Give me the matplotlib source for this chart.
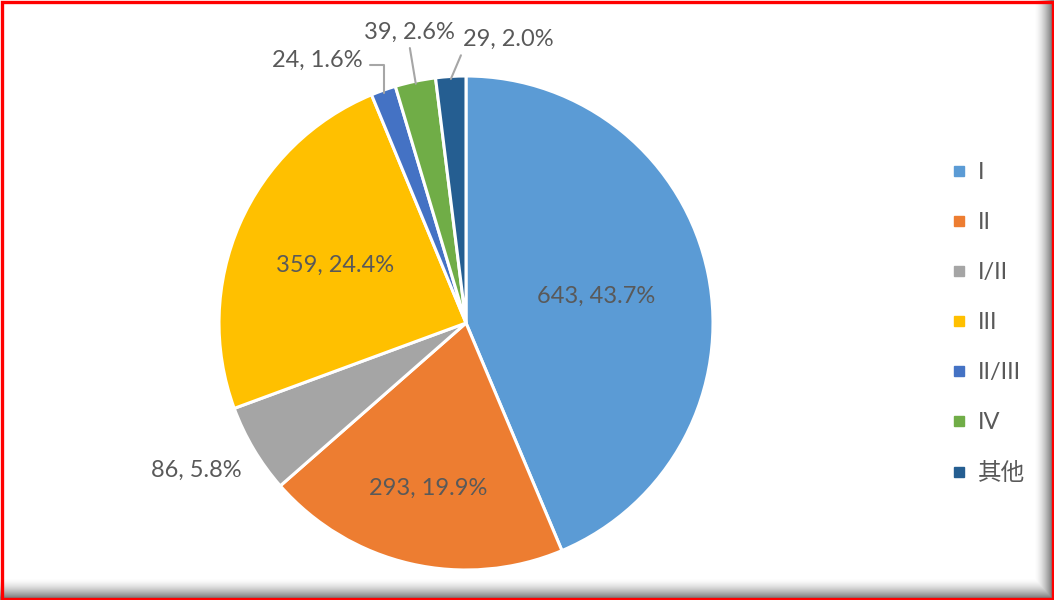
import numpy as np
import matplotlib
matplotlib.use("Agg")
import matplotlib.pyplot as plt
from matplotlib.patches import Rectangle
from matplotlib.lines import Line2D

# data
categories = ['I', 'II', 'I/II', 'III', 'II/III', 'IV', '其他']
counts = [643, 293, 86, 359, 24, 39, 29]
colors = ['#5B9BD5', '#ED7D31', '#A5A5A5', '#FFC000', '#4472C4', '#70AD47', '#255E91']

# label placement: radial distance for inside labels, (x, y) text spot for outside ones
inside_r = {0: 0.537, 1: 0.685, 3: 0.58}
outside_xy = {2: (-1.09, -0.595), 4: (-0.60, 1.065), 5: (-0.231, 1.178), 6: (0.172, 1.148)}

plt.rcParams['font.family'] = ['Lato', 'Noto Sans CJK SC', 'DejaVu Sans']
txt_color = '#595959'
fs = 17

W, H = 1054, 600
fig = plt.figure(figsize=(W / 100, H / 100), dpi=100)

# drop shadow along bottom and right edge
yy, xx = np.mgrid[0:H, 0:W]
a_bot = np.clip((yy - 578) / 19.0, 0, 1)
a_rgt = np.clip((xx - 1034) / 17.0, 0, 1)
a = np.maximum(a_bot, a_rgt) ** 1.6
shade = 1 - 0.5 * a
img = np.dstack([shade, shade, shade])
fig.figimage(img, 0, 0, origin='upper', zorder=-10)

cx, cy, r = 466, 323, 247
ax = fig.add_axes([(cx - r) / W, (H - cy - r) / H, 2 * r / W, 2 * r / H], zorder=5)
ax.patch.set_visible(False)
wedges, _ = ax.pie(counts, colors=colors, startangle=90, counterclock=False,
                   radius=1, wedgeprops=dict(edgecolor='white', linewidth=2.2))
ax.set_xlim(-1, 1)
ax.set_ylim(-1, 1)
ax.axis('off')

total = sum(counts)
for i, (w, n) in enumerate(zip(wedges, counts)):
    lab = f'{n}, {n / total * 100:.1f}%'
    ang = np.deg2rad((w.theta1 + w.theta2) / 2)
    if i in inside_r:
        d = inside_r[i]
        ax.text(d * np.cos(ang), d * np.sin(ang), lab, ha='center', va='center',
                fontsize=fs, color=txt_color, clip_on=False)
    else:
        tx, ty = outside_xy[i]
        tip = (0.99 * np.cos(ang), 0.99 * np.sin(ang))
        if i == 4:
            ap = dict(arrowstyle='-', color='#A6A6A6', lw=1.5, shrinkA=3, shrinkB=0,
                      relpos=(1, 0.25), connectionstyle='angle,angleA=0,angleB=90,rad=0')
        elif i == 5:
            ap = dict(arrowstyle='-', color='#A6A6A6', lw=1.5, shrinkA=2, shrinkB=0,
                      relpos=(0.5, 0))
        elif i == 6:
            ap = dict(arrowstyle='-', color='#A6A6A6', lw=1.5, shrinkA=2, shrinkB=0,
                      relpos=(0.02, 0.2))
        else:
            ap = None
        ax.annotate(lab, xy=tip, xytext=(tx, ty), ha='center', va='center',
                    fontsize=fs, color=txt_color, annotation_clip=False,
                    arrowprops=ap)

handles = [Line2D([], [], marker='s', linestyle='none', markersize=6.5,
                  markerfacecolor=c, markeredgecolor=c) for c in colors]
fig.legend(handles, categories, loc='center left', bbox_to_anchor=(951 / W, 1 - 323 / H),
           frameon=False, fontsize=fs, labelcolor=txt_color, handlelength=0.7,
           handletextpad=0.45, labelspacing=1.23, borderpad=0, borderaxespad=0)

# red frame
fig.add_artist(Rectangle((1.5 / W, 1.0 / H), (W - 2.5) / W, (H - 2.5) / H, transform=fig.transFigure,
                         fill=False, edgecolor='red', linewidth=2.4, zorder=10))

fig.savefig('out.png', dpi=100)
